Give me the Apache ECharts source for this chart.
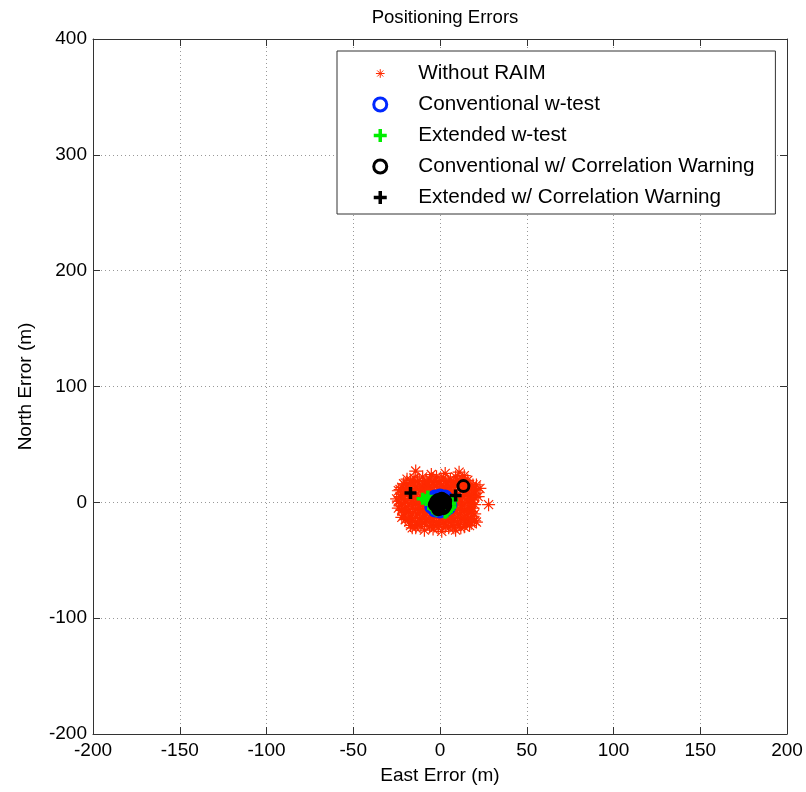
<!DOCTYPE html>
<html><head><meta charset="utf-8">
<script src="https://cdn.jsdelivr.net/npm/echarts@6/dist/echarts.min.js"></script>
<style>html,body{margin:0;padding:0;background:#fff}#c{width:806px;height:792px}</style>
</head><body><div id="c"></div>
<script>
const xTickValues = [-200, -150, -100, -50, 0, 50, 100, 150, 200];
const xTickLabels = ['-200', '-150', '-100', '-50', '0', '50', '100', '150', '200'];
const yTickValues = [-200, -100, 0, 100, 200, 300, 400];
const yTickLabels = ['-200', '-100', '0', '100', '200', '300', '400'];

const seriesNames = ['Without RAIM', 'Conventional w-test', 'Extended w-test',
  'Conventional w/ Correlation Warning', 'Extended w/ Correlation Warning'];

const withoutRaim = [
  [-14,27],[-5,24],[3,25],[11,26],[14,23],
  [-19,20],[-15,21],[-10,22],[-6,20],[-2,22],[2,21],[6,20],[9,22],[13,20],[16,19],
  [-21,16],[-17,17],[-13,18],[-9,16],[-4,17],[0,18],[4,16],[8,17],[12,18],[15,16],[19,15],
  [-22,13],[-18,12],[-14,14],[-10,12],[-6,13],[-2,14],[2,12],[6,13],[10,14],[14,12],[18,13],[23,12],
  [-24,10],[-20,9],[-16,8],[-12,10],[-8,9],[-4,8],[0,10],[4,9],[8,8],[12,10],[16,9],[20,8],
  [-23,5],[-19,6],[-15,4],[-11,5],[-7,6],[-3,4],[1,5],[5,6],[9,4],[13,5],[17,6],[20,4],
  [-24,1],[-20,0],[-16,2],[-12,1],[-8,0],[-4,2],[0,1],[4,0],[8,2],[12,1],[16,0],[19,2],
  [-23,-3],[-19,-4],[-15,-2],[-11,-3],[-7,-4],[-3,-2],[1,-3],[5,-4],[9,-2],[13,-3],[17,-4],[20,-2],[28,-2],
  [-22,-7],[-18,-8],[-14,-6],[-10,-7],[-6,-8],[-2,-6],[2,-7],[6,-8],[10,-6],[14,-7],[18,-8],
  [-21,-11],[-17,-12],[-13,-10],[-9,-11],[-5,-12],[-1,-10],[3,-11],[7,-12],[11,-10],[15,-11],[19,-12],
  [-20,-15],[-16,-16],[-12,-14],[-8,-15],[-4,-16],[0,-14],[4,-15],[8,-16],[12,-14],[16,-15],[20,-16],
  [-17,-20],[-13,-19],[-9,-18],[-5,-20],[-1,-19],[3,-18],[7,-20],[11,-19],[15,-18],[21,-17],
  [-14,-22],[-9,-24],[-4,-23],[1,-25],[5,-22],[9,-24],[14,-21],
  [-17,19],[-12,19],[-8,18],[-3,19],[1,19],[5,18],[10,19],[14,18],
  [-19,15],[-15,15],[-11,14],[-7,15],[-3,15],[1,15],[5,14],[9,15],[13,15],[17,14],[21,15],
  [-23,11],[-19,11],[-15,10],[-11,11],[-7,11],[-3,10],[1,11],[5,11],[9,10],[13,11],[17,11],[21,10],
  [-22,7],[-18,7],[-14,7],[-10,7],[-6,7],[-2,6],[2,7],[6,7],[10,6],[14,7],[18,7],
  [-25,3],[-21,3],[-17,3],[-13,3],[-9,3],[-5,3],[-1,3],[3,3],[7,3],[11,3],[15,3],[18,3],[22,5],
  [-22,-1],[-18,-1],[-14,-1],[-10,-1],[-6,-1],[-2,-1],[2,-1],[6,-1],[10,-1],[14,-1],[18,-1],
  [-24,-5],[-20,-6],[-16,-5],[-12,-5],[-8,-6],[-4,-5],[0,-5],[4,-6],[8,-5],[12,-5],[16,-6],[19,-5],
  [-20,-9],[-16,-10],[-12,-9],[-8,-9],[-4,-9],[0,-9],[4,-9],[8,-10],[12,-9],[16,-9],[20,-10],
  [-22,-13],[-18,-14],[-14,-13],[-10,-13],[-6,-13],[-2,-13],[2,-13],[6,-14],[10,-13],[14,-13],[18,-14],
  [-18,-17],[-14,-17],[-10,-17],[-6,-17],[-2,-17],[2,-17],[6,-17],[10,-17],[14,-16],[18,-18],
  [-16,-22],[-11,-21],[-6,-21],[-1,-22],[3,-21],[8,-22],[12,-22],[17,-20]
];
const conventional = [
  [-5,-1],[-4,3],[-3,5],[0,6],[3,5],[5,2],[6,-2],[5,-5],[3,-7],[0,-8],[-3,-7],[-5,-4],
  [-2,0],[1,1],[2,-3],[-1,-4],[0,-2],[3,-1],[-3,1],[4,0],[-4,-2],[1,4],[-1,-6],[2,3]
];
const extended = [
  [-10,3],[-7,5],[-6,1],[-3,-6],[4,-8],[6,-4],[7,2],[5,-6],[-4,-5],[3,-9],[-8,2],[6,-1],[-2,-7]
];
const convCorr = [
  [-2,-1],[-1,2],[1,3],[2,0],[3,-3],[1,-5],[-1,-4],[-3,-2],[0,0],[0,-2],[2,2],[-2,1],
  [1,-1],[-1,-6],[2,-5],[3,1],[13.5,14]
];
const extCorr = [[-17,8],[9,6]];

const FONT = '"Liberation Sans", Arial, Helvetica, sans-serif';
const starPath = 'path://M0,5L10,5M5,0L5,10M1.5,1.5L8.5,8.5M8.5,1.5L1.5,8.5';
const starLegendPath = 'path://M-2.5,-2.5M12.5,12.5M0,5L10,5M5,0L5,10M1.5,1.5L8.5,8.5M8.5,1.5L1.5,8.5';
const plusPath = 'path://M0,5L10,5M5,0L5,10';
const axisColor = '#333';

function lbl(values, labels) {
  return v => { const i = values.indexOf(v); return i >= 0 ? labels[i] : ''; };
}

const chart = echarts.init(document.getElementById('c'), null, {renderer: 'canvas'});
chart.setOption({
  animation: false,
  backgroundColor: '#fff',
  title: {
    text: 'Positioning Errors', left: 440, top: 3, textAlign: 'center',
    textStyle: {fontFamily: FONT, fontSize: 18.6, fontWeight: 'normal', color: '#000'}
  },
  grid: {left: 93, right: 19, top: 39, bottom: 58},
  xAxis: [{
    type: 'value', min: -200, max: 200, interval: 50, position: 'bottom',
    name: 'East Error (m)', nameLocation: 'middle', nameGap: 32,
    nameTextStyle: {fontFamily: FONT, fontSize: 19, color: '#000'},
    axisLine: {onZero: false, lineStyle: {color: axisColor, width: 1}},
    axisTick: {inside: true, length: 7, lineStyle: {color: axisColor}},
    axisLabel: {fontFamily: FONT, fontSize: 19, color: '#000', margin: 7, formatter: lbl(xTickValues, xTickLabels)},
    splitLine: {show: true, lineStyle: {color: '#999', type: [1, 3], width: 1}}
  }, {
    type: 'value', min: -200, max: 200, interval: 50, position: 'top',
    axisLine: {show: true, onZero: false, lineStyle: {color: axisColor}},
    axisTick: {inside: true, length: 7, lineStyle: {color: axisColor}},
    axisLabel: {show: false}, splitLine: {show: false}
  }],
  yAxis: [{
    type: 'value', min: -200, max: 400, interval: 100, position: 'left',
    name: 'North Error (m)', nameLocation: 'middle', nameGap: 58,
    nameTextStyle: {fontFamily: FONT, fontSize: 19, color: '#000'},
    axisLine: {show: true, onZero: false, lineStyle: {color: axisColor, width: 1}},
    axisTick: {show: true, inside: true, length: 7, lineStyle: {color: axisColor}},
    axisLabel: {fontFamily: FONT, fontSize: 19, color: '#000', margin: 6, formatter: lbl(yTickValues, yTickLabels)},
    splitLine: {show: true, lineStyle: {color: '#999', type: [1, 3], width: 1}}
  }, {
    type: 'value', min: -200, max: 400, interval: 100, position: 'right',
    axisLine: {show: true, onZero: false, lineStyle: {color: axisColor}},
    axisTick: {show: true, inside: true, length: 7, lineStyle: {color: axisColor}},
    axisLabel: {show: false}, splitLine: {show: false}
  }],
  legend: {
    orient: 'vertical', left: 337, top: 51,
    padding: [12, 21, 6, 35],
    itemWidth: 66, itemHeight: 13, itemGap: 10,
    borderColor: axisColor, borderWidth: 1, backgroundColor: '#fff',
    selectedMode: false,
    textStyle: {fontFamily: FONT, fontSize: 20.7, color: '#000'},
    itemStyle: {borderWidth: 3},
    data: [
      {name: seriesNames[0], icon: starLegendPath, itemStyle: {borderWidth: 1}},
      {name: seriesNames[1], icon: 'circle'},
      {name: seriesNames[2], icon: plusPath, itemStyle: {borderWidth: 3.5}},
      {name: seriesNames[3], icon: 'circle'},
      {name: seriesNames[4], icon: plusPath, itemStyle: {borderWidth: 3.5}}
    ]
  },
  series: [
    {name: seriesNames[0], type: 'scatter', data: withoutRaim, symbol: starPath, symbolSize: 13,
     itemStyle: {color: 'rgba(0,0,0,0)', borderColor: '#ff2a00', borderWidth: 1.2, opacity: 1}, silent: true},
    {name: seriesNames[1], type: 'scatter', data: conventional, symbol: 'circle', symbolSize: 11,
     itemStyle: {color: 'rgba(0,0,0,0)', borderColor: '#0028ff', borderWidth: 3, opacity: 1}, silent: true},
    {name: seriesNames[2], type: 'scatter', data: extended, symbol: plusPath, symbolSize: 12,
     itemStyle: {color: 'rgba(0,0,0,0)', borderColor: '#00ee00', borderWidth: 3.5, opacity: 1}, silent: true},
    {name: seriesNames[3], type: 'scatter', data: convCorr, symbol: 'circle', symbolSize: 11,
     itemStyle: {color: 'rgba(0,0,0,0)', borderColor: '#000', borderWidth: 3, opacity: 1}, silent: true},
    {name: seriesNames[4], type: 'scatter', data: extCorr, symbol: plusPath, symbolSize: 12,
     itemStyle: {color: 'rgba(0,0,0,0)', borderColor: '#000', borderWidth: 3.5, opacity: 1}, silent: true}
  ]
});
</script>
</body></html>
